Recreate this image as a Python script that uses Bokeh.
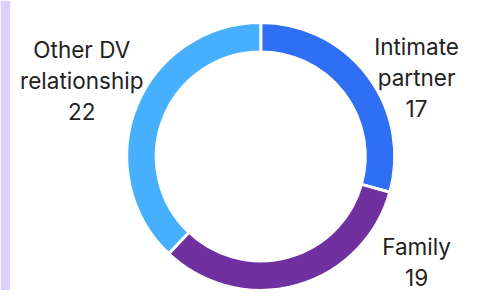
import numpy as np
from bokeh.plotting import figure
from bokeh.models import Range1d, ColumnDataSource
from bokeh.core.properties import value
from bokeh.embed import file_html
from bokeh.resources import INLINE

# ---- data ----
categories = ["Intimate partner", "Family", "Other DV relationship"]
label_lines = ["Intimate\npartner", "Family", "Other DV\nrelationship"]
values = [17, 19, 22]
colors = ["#2E6FF4", "#7030A0", "#46B0FF"]

# ---- layout (reference-image units: x right, y up; image is 493 x 306) ----
W, H = 477, 290
RW, RH = 493, 306
cx, cy = 269, RH - 164.5
r_in, r_out = 108, 138.5
label_x = [430, 430, 84]
label_y = [RH - 81, RH - 276, RH - 84]

vals = np.array(values, dtype=float)
frac = vals / vals.sum()
ends_cum = np.cumsum(frac)
starts_cum = ends_cum - frac
start_angle = np.pi / 2 - starts_cum * 2 * np.pi
end_angle = np.pi / 2 - ends_cum * 2 * np.pi

src = ColumnDataSource(dict(
    cat=categories, val=values, color=colors,
    start=start_angle, end=end_angle,
    x=[cx] * len(values), y=[cy] * len(values),
))

p = figure(width=W, height=H, output_backend="svg", toolbar_location=None,
           x_range=Range1d(0, RW), y_range=Range1d(0, RH),
           min_border=0, outline_line_color=None, background_fill_color="white",
           border_fill_color="white")
p.axis.visible = False
p.grid.visible = False

# left decorative strip
p.quad(left=[0], right=[10], bottom=[0], top=[RH],
       fill_color="#DCD1FC", line_color=None)

p.annular_wedge(x="x", y="y", inner_radius=r_in, outer_radius=r_out,
                start_angle="start", end_angle="end", direction="clock",
                fill_color="color", line_color="white", line_width=3, source=src)

texts = [f"{l}\n{v}" for l, v in zip(label_lines, values)]
p.text(x=label_x, y=label_y, text=texts, text_align="center",
       text_baseline="middle", text_font=value("Inter"),
       text_font_size="22.5px", text_color="#222222", text_line_height=1.15)

open("out.html", "w").write(file_html(p, INLINE))
